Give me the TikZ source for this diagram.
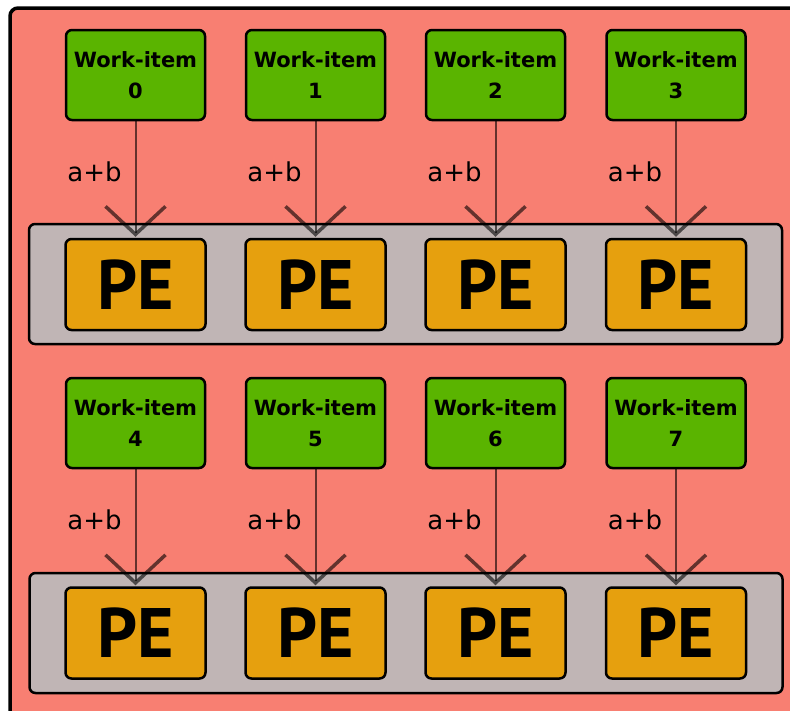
\documentclass[tikz,border=0pt]{standalone}
\usepackage{fontspec}
\setmainfont{DejaVu Sans}
\newfontfamily\pefont{PT Sans}
\usetikzlibrary{arrows.meta}
\definecolor{salmonbg}{HTML}{F87F72}
\definecolor{wigreen}{HTML}{5AB400}
\definecolor{peorange}{HTML}{E6A00E}
\definecolor{grpgray}{HTML}{C0B5B5}
\tikzset{
  outerbox/.style={draw=black, line width=3.5pt, fill=salmonbg, rounded corners=8pt},
  groupbox/.style={draw=black, line width=2.5pt, fill=grpgray, rounded corners=6pt, minimum width=753pt, minimum height=120pt, inner sep=0pt},
  wibox/.style={draw=black, line width=2.5pt, fill=wigreen, rounded corners=6pt, minimum width=139pt, minimum height=90pt, inner sep=0pt, align=center, font=\fontsize{21}{31}\selectfont\bfseries},
  pebox/.style={draw=black, line width=2.5pt, fill=peorange, rounded corners=6pt, minimum width=140pt, minimum height=91pt, inner sep=0pt, font=\pefont\fontsize{70}{70}\selectfont\bfseries},
  lab/.style={inner sep=0pt, font=\fontsize{26}{26}\selectfont},
  conn/.style={draw=black, draw opacity=0.6, line width=2pt, -{Straight Barb[length=28pt, width=60pt, line width=3.5pt]}, shorten >=1pt}
}
\begin{document}
\begin{tikzpicture}[x=1pt,y=-1pt]
\useasboundingbox (0,0) rectangle (790,710);
\clip (0,0) rectangle (790,710);
\fill[white] (0,0) rectangle (790,710);
\draw[outerbox] (10,8) rectangle (815,735);
\node[groupbox] (g1) at (405.5,284) {};
\node[groupbox] (g2) at (406,633) {};
\foreach \n/\x in {0/135.5,1/315.5,2/495.5,3/676}{
  \node[wibox] (w\n) at (\x,75) {Work-item\\\n};
  \node[pebox] (pe\n) at (\x,284.5) {PE};
  \node[lab] (l\n) at ({\x-41},172) {a+b};
  \draw[conn] (w\n) -- (pe\n);
}
\foreach \n/\x in {4/135.5,5/315.5,6/495.5,7/676}{
  \node[wibox] (w\n) at (\x,423) {Work-item\\\n};
  \node[pebox] (pe\n) at (\x,633) {PE};
  \node[lab] (l\n) at ({\x-41},520) {a+b};
  \draw[conn] (w\n) -- (pe\n);
}
\end{tikzpicture}
\end{document}
